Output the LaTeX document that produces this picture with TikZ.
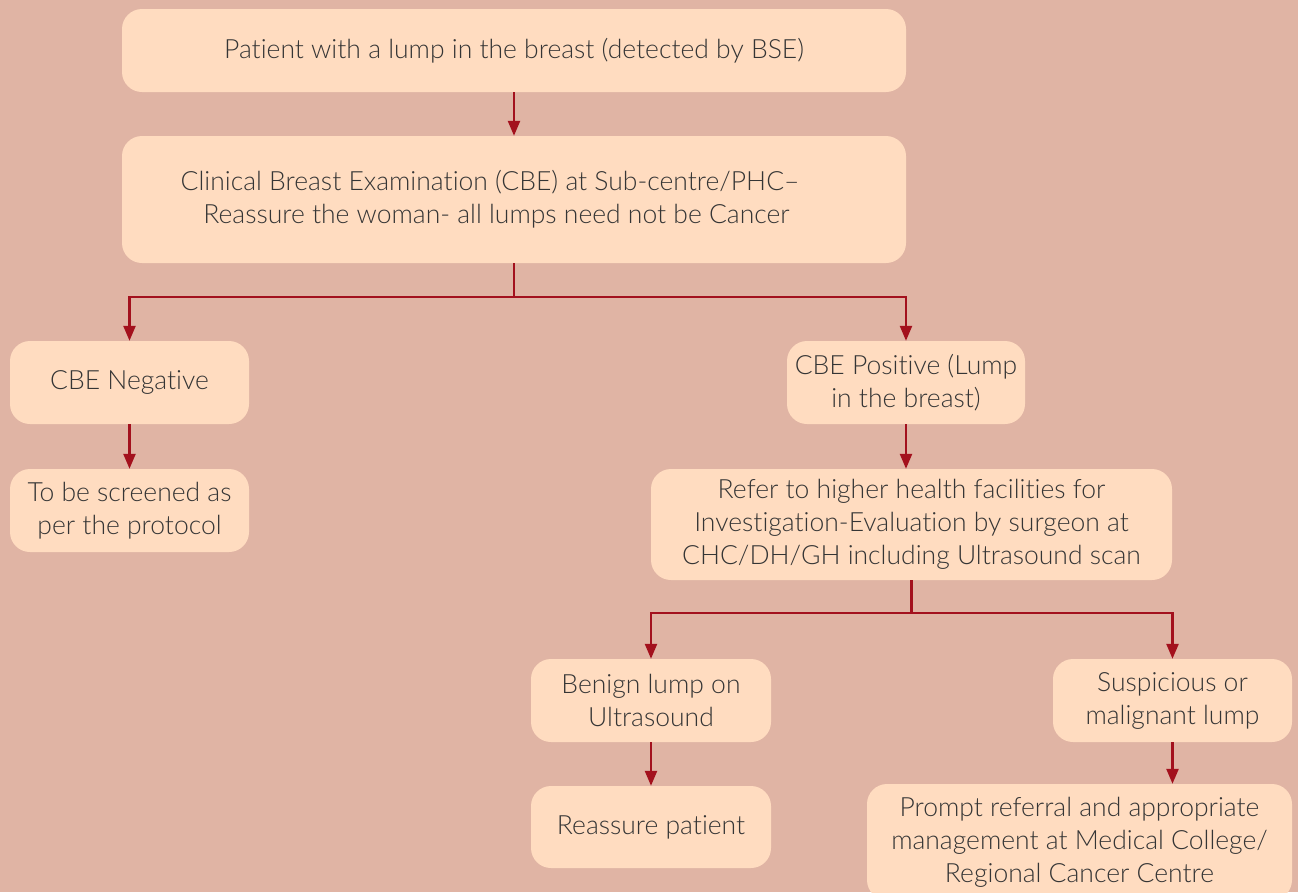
\documentclass[tikz,border=0pt]{standalone}
\usepackage{fontspec}
\setmainfont{Lato}[UprightFont=* Light, Ligatures={NoCommon}]
\usetikzlibrary{arrows.meta}
\definecolor{bgc}{HTML}{E0B4A4}
\definecolor{boxc}{HTML}{FFDCC0}
\definecolor{arrc}{HTML}{A3111D}
\definecolor{txtc}{HTML}{353535}
\tikzset{
  box/.style={fill=boxc, draw=none, rounded corners=20pt, align=center, text=txtc,
    font=\fontsize{26.5}{33}\selectfont, inner sep=0pt},
  arr/.style={draw=arrc, line width=2.4pt, -{Triangle[length=15pt,width=12pt]}},
  ln/.style={draw=arrc, line width=2.4pt}
}
\begin{document}
\begin{tikzpicture}[x=1pt,y=-1pt]
\useasboundingbox (0,0) rectangle (1298,892);
\clip (0,0) rectangle (1298,892);
\fill[bgc] (0,0) rectangle (1298,892);
\node[box, minimum width=784pt, minimum height=83pt] (top) at (514,50.5) {Patient with a lump in the breast (detected by BSE)};
\node[box, minimum width=784pt, minimum height=127pt] (cbe) at (514,199.5) {Clinical Breast Examination (CBE) at Sub-centre/PHC--\hspace*{48pt}\\Reassure the woman- all lumps need not be Cancer\hspace*{35pt}};
\node[box, minimum width=239pt, minimum height=83pt] (neg) at (129.5,382.5) {CBE Negative};
\node[box, minimum width=239pt, minimum height=83pt] (scr) at (129.5,510.5) {To be screened as\\per the protocol};
\node[box, minimum width=238pt, minimum height=83pt] (pos) at (906,382.5) {CBE Positive (Lump\\in the breast)};
\node[box, minimum width=521pt, minimum height=111pt] (ref) at (911.5,524.5) {Refer to higher health facilities for\\Investigation-Evaluation by surgeon at\\CHC/DH/GH including Ultrasound scan};
\node[box, minimum width=240pt, minimum height=83pt] (ben) at (651,700.5) {Benign lump on\\Ultrasound};
\node[box, minimum width=239pt, minimum height=83pt] (sus) at (1172.5,700.5) {Suspicious or\\malignant lump};
\node[box, minimum width=240pt, minimum height=82pt] (rea) at (651,827) {Reassure patient};
\node[box, minimum width=425pt, minimum height=116pt] (pro) at (1079.5,842) {Prompt referral and appropriate\\management at Medical College/\\Regional Cancer Centre};
\coordinate (j1) at (514,297);
\coordinate (j2) at (911.5,613);
\draw[arr] (top.south) -- (cbe.north);
\draw[ln] (cbe.south) -- (j1);
\draw[arr] (j1) -| (neg.north);
\draw[arr] (j1) -| (pos.north);
\draw[arr] (neg.south) -- (scr.north);
\draw[arr] (pos.south) -- (pos.south |- ref.north);
\draw[ln] (ref.south) -- (j2);
\draw[arr] (j2) -| (ben.north);
\draw[arr] (j2) -| (sus.north);
\draw[arr] (ben.south) -- (rea.north);
\draw[arr] (sus.south) -- (sus.south |- pro.north);
\end{tikzpicture}
\end{document}
